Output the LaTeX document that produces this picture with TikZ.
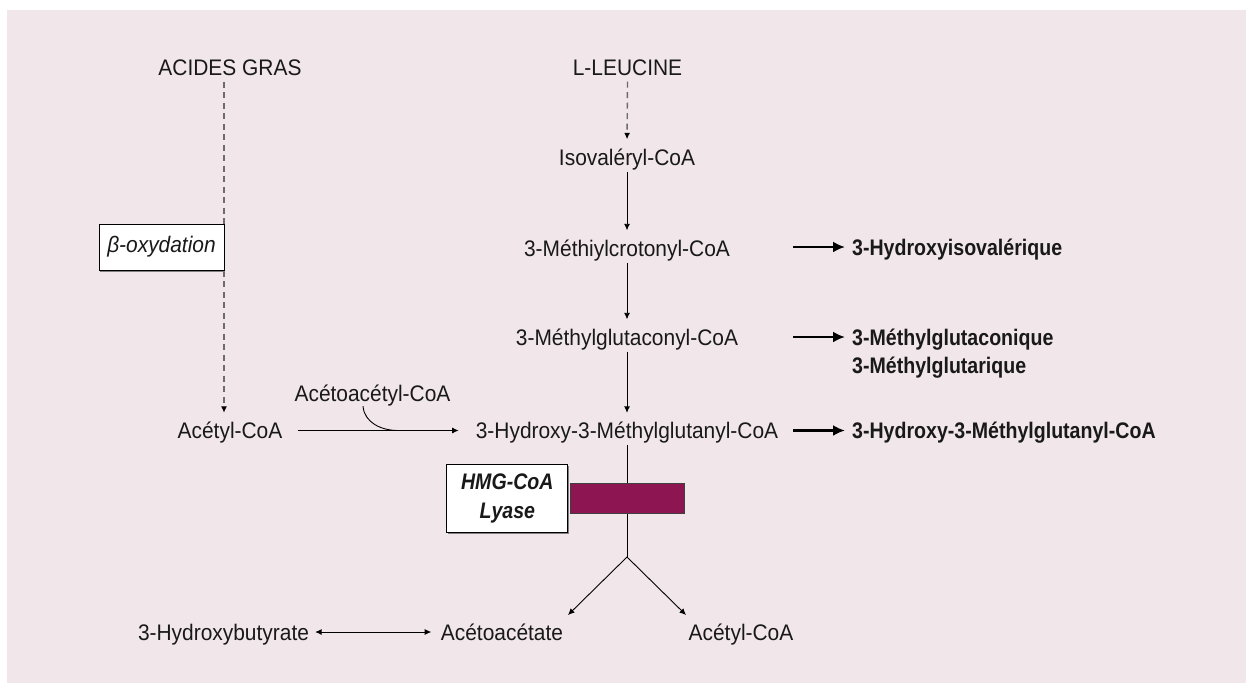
\documentclass[tikz,border=0pt]{standalone}
\usepackage{fontspec}
\setmainfont{Liberation Sans}[
  UprightFeatures={FakeStretch=0.93},
  ItalicFeatures={FakeStretch=0.93},
  BoldFeatures={FakeStretch=0.87},
  BoldItalicFeatures={FakeStretch=0.87}]
\usetikzlibrary{arrows.meta,shadows}
\definecolor{bgpink}{HTML}{F1E6EA}
\definecolor{lyasebar}{HTML}{8C1552}
\definecolor{dashgray}{HTML}{6B6B6B}

\begin{document}
\begin{tikzpicture}[x=1pt,y=-1pt,
  every node/.style={font=\fontsize{22.5}{26}\selectfont, text=black!90},
  met/.style={inner xsep=5pt, inner ysep=4.5pt, text height=16pt, text depth=0pt},
  prod/.style={met, font=\fontsize{22.5}{26}\selectfont\bfseries, anchor=west},
  tip/.style={-{Latex[length=6.5pt,width=6pt]}},
  arr/.style={draw=black, line width=0.9pt, tip},
  conv/.style={arr, shorten <=2pt, shorten >=5pt},
  dashconv/.style={draw=dashgray, line width=1.4pt, dash pattern=on 6pt off 4.5pt,
    -{Latex[length=6.5pt,width=6pt,fill=black,color=black]}, shorten <=2pt, shorten >=5pt},
  prodarrow/.style={draw=black, line width=2.6pt, -{Latex[length=12pt,width=11pt]}, shorten >=2pt},
  oxbox/.style={draw=black, line width=0.8pt, fill=white, minimum width=125pt,
    minimum height=46pt, inner sep=0pt,
    general shadow={fill=black!50, shadow xshift=1.3pt, shadow yshift=-1.6pt}},
  lyasebox/.style={draw=black, line width=0.8pt, fill=white, minimum width=121pt,
    minimum height=68pt, inner sep=0pt, align=center,
    font=\fontsize{22.5}{29}\selectfont\bfseries\itshape,
    general shadow={fill=black!50, shadow xshift=1.3pt, shadow yshift=-1.6pt}},
  lyasebarstyle/.style={draw=black!75, line width=0.8pt, fill=lyasebar,
    minimum width=114pt, minimum height=30pt, inner sep=0pt}
]
\useasboundingbox (0,0) rectangle (1246,683);
\fill[bgpink] (7,10) rectangle (1246,683);

% fatty acid route
\node[met] (ag)  at (230,67)    {ACIDES GRAS};
\node[met] (acl) at (230,430.5) {Acétyl-CoA};
\draw[dashconv] ([xshift=-6pt]ag.south) -- ([xshift=-6pt]acl.north);
\node[oxbox] (beta) at (161.5,247) {\itshape β-oxydation};

% leucine route
\node[met] (leu) at (627.5,67) {L-LEUCINE};
\node[met] (iso) at (627,157)  {Isovaléryl-CoA};
\node[met] (mcc) at (627,248)  {3-Méthiylcrotonyl-CoA};
\node[met] (mgc) at (627,337)  {3-Méthylglutaconyl-CoA};
\node[met] (hmg) at (627,430.5) {3-Hydroxy-3-Méthylglutanyl-CoA};

\draw[dashconv] (leu.south) -- (iso.north);
\draw[conv] (iso.south) -- (mcc.north);
\draw[conv] (mcc.south) -- (mgc.north);
\draw[conv] (mgc.south) -- (hmg.north);

% condensation with acetoacetyl-CoA
\node[met] (aac) at (372.5,393.5) {Acétoacétyl-CoA};
\coordinate (join) at (398,430.5);
\draw[conv, shorten <=10pt, shorten >=12pt] (acl.east) -- (hmg.west);
\draw[draw=black, line width=0.9pt] ([xshift=-9.5pt]aac.south) to[out=-85,in=180] (join);

% accumulated organic acids
\coordinate (p1) at (793,247);
\coordinate (p2) at (793,337);
\coordinate (p3) at (793,430.5);
\node[prod] (hiv)  at (847,247)   {3-Hydroxyisovalérique};
\node[prod] (mgcq) at (847,337)   {3-Méthylglutaconique};
\node[prod] (mgtq) at (847,365)   {3-Méthylglutarique};
\node[prod] (hmgp) at (847,430.5) {3-Hydroxy-3-Méthylglutanyl-CoA};
\draw[prodarrow] (p1) -- (hiv.west);
\draw[prodarrow] (p2) -- (mgcq.west);
\draw[prodarrow] (p3) -- (hmgp.west);

% HMG-CoA lyase step
\coordinate (br) at (627,557);
\draw[draw=black, line width=0.9pt, shorten <=2pt] (hmg.south) -- (br);
\node[lyasebarstyle] (bar) at (627,498) {};
\node[lyasebox] (lyase) at (507.3,498) {HMG-CoA\\Lyase};

% ketone bodies
\node[met] (hb)  at (223.5,632) {3-Hydroxybutyrate};
\node[met] (aa)  at (502,632) {Acétoacétate};
\node[met] (acr) at (741,632) {Acétyl-CoA};
\coordinate (tipL) at (568,615);
\coordinate (tipR) at (686,615);
\draw[arr] (br) -- (tipL);
\draw[arr] (br) -- (tipR);
\draw[arr, {Latex[length=6.5pt,width=6pt]}-{Latex[length=6.5pt,width=6pt]}, shorten <=1pt, shorten >=4.5pt] (hb.east) -- (aa.west);
\end{tikzpicture}
\end{document}
